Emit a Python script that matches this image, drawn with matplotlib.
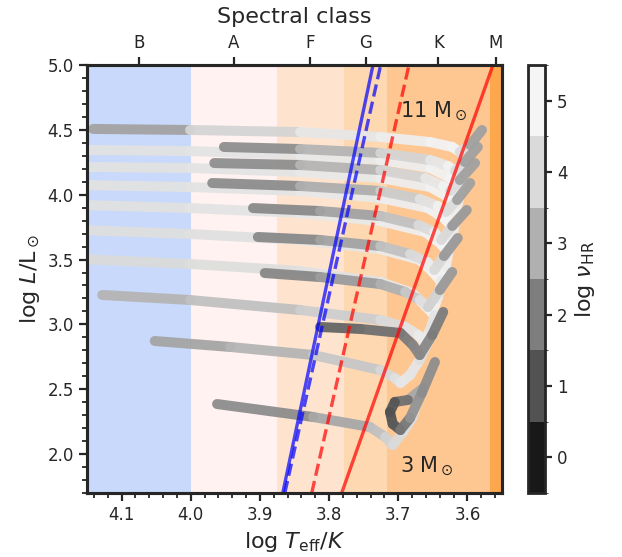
import numpy as np
import matplotlib
matplotlib.use('Agg')
import matplotlib.pyplot as plt
from matplotlib.collections import LineCollection
from matplotlib.colors import Normalize, ListedColormap, BoundaryNorm
from matplotlib.cm import ScalarMappable
from matplotlib.ticker import MultipleLocator

plt.rcParams['font.family'] = 'DejaVu Sans'
for k in ['text.color', 'axes.labelcolor', 'xtick.color', 'ytick.color']:
    plt.rcParams[k] = '#262626'

# spectral class bands (log Teff edges) and top-axis tick positions
band_edges = [4.30, 4.0, 3.875, 3.778, 3.716, 3.568, 3.50]
band_colors = ['#c8d9fb', '#fff2f0', '#fee4cf', '#fed8b0', '#fec792', '#fea84e']
spec_ticks = [4.075, 3.9375, 3.827, 3.747, 3.642, 3.559]
spec_labels = ['B', 'A', 'F', 'G', 'K', 'M']

# instability strip edges
strip_logL = [1.7, 5.0]
blue_edge = [3.867, 3.7365]
blue_edge2 = [3.864, 3.7254]
red_edge = [3.7818, 3.563]
red_edge2 = [3.8251, 3.6845]

masses = [11, 10, 9, 8, 7, 6, 5, 4, 3]

# Hertzsprung-gap crossing + RGB hook
cross_logT = [
    [4.160, 4.001, 3.842, 3.726, 3.654, 3.625, 3.615, 3.606, 3.606],
    [4.160, 4.001, 3.842, 3.726, 3.654, 3.628, 3.618, 3.611, 3.606],
    [4.160, 4.001, 3.842, 3.726, 3.657, 3.634, 3.625, 3.617, 3.612],
    [4.160, 4.001, 3.842, 3.726, 3.661, 3.640, 3.631, 3.622, 3.618],
    [4.160, 4.001, 3.842, 3.726, 3.669, 3.650, 3.640, 3.631, 3.627],
    [4.160, 4.001, 3.842, 3.726, 3.680, 3.661, 3.651, 3.643, 3.637],
    [4.128, 4.001, 3.842, 3.726, 3.690, 3.671, 3.663, 3.654, 3.647],
    [4.052, 3.943, 3.823, 3.726, 3.705, 3.697, 3.683, 3.669, 3.657],
    [3.962, 3.823, 3.741, 3.719, 3.708, 3.693, 3.680, 3.669, 3.664],
]
cross_logL = [
    [4.345, 4.337, 4.306, 4.268, 4.206, 4.129, 4.075, 4.152, 4.268],
    [4.214, 4.206, 4.175, 4.129, 4.059, 3.982, 3.928, 4.013, 4.129],
    [4.075, 4.059, 4.029, 3.975, 3.897, 3.820, 3.766, 3.859, 3.975],
    [3.921, 3.897, 3.859, 3.797, 3.712, 3.628, 3.574, 3.666, 3.790],
    [3.728, 3.697, 3.651, 3.581, 3.497, 3.404, 3.342, 3.450, 3.574],
    [3.504, 3.466, 3.412, 3.327, 3.242, 3.142, 3.088, 3.204, 3.342],
    [3.227, 3.188, 3.111, 3.034, 2.980, 2.918, 2.864, 2.957, 3.072],
    [2.872, 2.826, 2.764, 2.648, 2.587, 2.548, 2.610, 2.726, 2.864],
    [2.386, 2.286, 2.209, 2.132, 2.070, 2.170, 2.278, 2.456, 2.510],
]
cross_nu = [
    [4.3, 4.3, 4.4, 4.6, 4.8, 4.9, 5.0, 4.8, 4.5],
    [4.3, 4.3, 4.4, 4.6, 4.8, 4.9, 5.0, 4.8, 4.5],
    [4.3, 4.3, 4.4, 4.6, 4.8, 4.9, 5.0, 4.8, 4.5],
    [4.2, 4.3, 4.4, 4.6, 4.8, 4.9, 5.0, 4.8, 4.5],
    [4.2, 4.2, 4.3, 4.5, 4.7, 4.9, 5.0, 4.8, 4.5],
    [4.0, 4.1, 4.2, 4.4, 4.6, 4.8, 4.9, 4.7, 4.4],
    [3.0, 3.2, 3.5, 3.9, 4.2, 4.5, 4.7, 4.5, 4.2],
    [2.7, 2.9, 3.3, 3.8, 4.1, 4.4, 4.5, 4.3, 4.0],
    [2.0, 2.6, 3.1, 3.6, 4.0, 4.1, 4.2, 4.2, 4.0],
]

# core He-burning blue loop + AGB
loop_logT = [
    [4.141, 4.001, 3.842, 3.726, 3.654, 3.622, 3.611, 3.596, 3.579],
    [3.952, 3.842, 3.726, 3.654, 3.628, 3.618, 3.604, 3.585],
    [3.966, 3.842, 3.726, 3.661, 3.635, 3.625, 3.611, 3.589],
    [3.969, 3.842, 3.726, 3.669, 3.643, 3.631, 3.615, 3.596],
    [3.910, 3.813, 3.726, 3.671, 3.648, 3.638, 3.622, 3.601],
    [3.903, 3.813, 3.726, 3.683, 3.658, 3.648, 3.634, 3.614],
    [3.893, 3.813, 3.726, 3.690, 3.669, 3.657, 3.640, 3.622],
    [3.813, 3.755, 3.697, 3.679, 3.669, 3.651, 3.635],
    [3.664, 3.686, 3.705, 3.712, 3.708, 3.697, 3.683, 3.666, 3.647],
]
loop_logL = [
    [4.507, 4.499, 4.483, 4.445, 4.406, 4.368, 4.329, 4.383, 4.499],
    [4.368, 4.352, 4.322, 4.268, 4.221, 4.183, 4.252, 4.368],
    [4.244, 4.229, 4.190, 4.129, 4.067, 4.029, 4.113, 4.244],
    [4.090, 4.067, 4.029, 3.967, 3.913, 3.867, 3.959, 4.090],
    [3.897, 3.874, 3.836, 3.766, 3.712, 3.651, 3.759, 3.882],
    [3.674, 3.651, 3.604, 3.543, 3.481, 3.419, 3.527, 3.666],
    [3.396, 3.365, 3.311, 3.250, 3.188, 3.134, 3.265, 3.404],
    [2.980, 2.965, 2.934, 2.841, 2.764, 2.918, 3.096],
    [2.510, 2.417, 2.402, 2.325, 2.232, 2.186, 2.278, 2.471, 2.710],
]
loop_nu = [
    [2.0, 3.5, 4.3, 4.6, 4.8, 4.9, 5.0, 3.2, 2.2],
    [2.0, 2.7, 3.5, 4.2, 4.7, 5.0, 3.2, 2.2],
    [2.0, 2.7, 3.5, 4.2, 4.7, 5.0, 3.2, 2.2],
    [2.0, 2.6, 3.3, 4.0, 4.6, 5.0, 3.2, 2.2],
    [2.0, 2.5, 3.0, 3.7, 4.4, 5.0, 3.0, 2.1],
    [2.0, 2.5, 3.0, 3.7, 4.4, 5.0, 3.0, 2.1],
    [2.0, 2.4, 2.8, 3.2, 3.9, 4.6, 3.0, 2.1],
    [1.3, 1.6, 1.8, 2.0, 2.3, 2.1, 1.8],
    [3.5, 2.2, 1.2, 1.0, 1.0, 1.4, 2.3, 2.6, 2.0],
]

nu_levels = np.arange(-0.5, 6.0, 1.0)
norm = Normalize(vmin=-0.5, vmax=5.5)
cmap = plt.get_cmap('Greys_r')


def draw_track(ax, T, L, nu):
    pts = np.column_stack([T, L])
    segs = np.stack([pts[:-1], pts[1:]], axis=1)
    vals = 0.5 * (np.array(nu[:-1]) + np.array(nu[1:]))
    lc = LineCollection(segs, cmap=cmap, norm=norm, linewidths=7.2,
                        capstyle='round', joinstyle='round', alpha=0.95, zorder=3)
    lc.set_array(vals)
    ax.add_collection(lc)


fig = plt.figure(figsize=(6.22, 5.57), dpi=100)
ax = fig.add_axes([0.1399, 0.1149, 0.6672, 0.7684])

for i in range(len(band_colors)):
    ax.axvspan(band_edges[i], band_edges[i + 1], color=band_colors[i], lw=0, zorder=0)

for i in range(len(masses)):
    draw_track(ax, cross_logT[i], cross_logL[i], cross_nu[i])
    draw_track(ax, loop_logT[i], loop_logL[i], loop_nu[i])

ax.plot(blue_edge, strip_logL, color='blue', lw=2.4, alpha=0.7, zorder=4)
ax.plot(blue_edge2, strip_logL, color='blue', lw=2.4, alpha=0.7, ls='--', zorder=4)
ax.plot(red_edge, strip_logL, color='red', lw=2.4, alpha=0.7, zorder=4)
ax.plot(red_edge2, strip_logL, color='red', lw=2.4, alpha=0.7, ls='--', zorder=4)

ax.text(3.697, 4.645, r'11 $\rm M_\odot$', fontsize=15, va='center', ha='left', zorder=5)
ax.text(3.697, 1.908, r'3 $\rm M_\odot$', fontsize=15, va='center', ha='left', zorder=5)

ax.set_xlim(4.15, 3.55)
ax.set_ylim(1.7, 5.0)
ax.xaxis.set_minor_locator(MultipleLocator(0.02))
ax.yaxis.set_minor_locator(MultipleLocator(0.1))
ax.tick_params(which='major', length=6, width=1.6, labelsize=12, top=False, right=False)
ax.tick_params(which='minor', length=3.5, width=1.3, top=False, right=False)
ax.set_xlabel(r'log $T_{\rm eff}/K$', fontsize=16)
ax.set_ylabel(r'log $L/\rm L_\odot$', fontsize=16)
for s in ax.spines.values():
    s.set_linewidth(2.2)
    s.set_color('#262626')

ax2 = ax.twiny()
ax2.set_xlim(ax.get_xlim())
ax2.set_xticks(spec_ticks)
ax2.set_xticklabels(spec_labels)
ax2.tick_params(length=6, width=1.6, labelsize=12)
ax2.set_xlabel('Spectral class', fontsize=16, labelpad=8)
for s in ax2.spines.values():
    s.set_linewidth(2.2)
    s.set_color('#262626')

cax = fig.add_axes([0.849, 0.1149, 0.0273, 0.7684])
cb_colors = [cmap(norm(v)) for v in range(6)]
cb = fig.colorbar(ScalarMappable(norm=BoundaryNorm(nu_levels, 6), cmap=ListedColormap(cb_colors)),
                  cax=cax, ticks=range(6))
cb.outline.set_linewidth(2.0)
cb.outline.set_edgecolor('#262626')
cax.tick_params(length=5, width=1.6, labelsize=12)
cb.set_label(r'log $\nu_{\rm HR}$', fontsize=16)

fig.savefig('out.png', dpi=100)
